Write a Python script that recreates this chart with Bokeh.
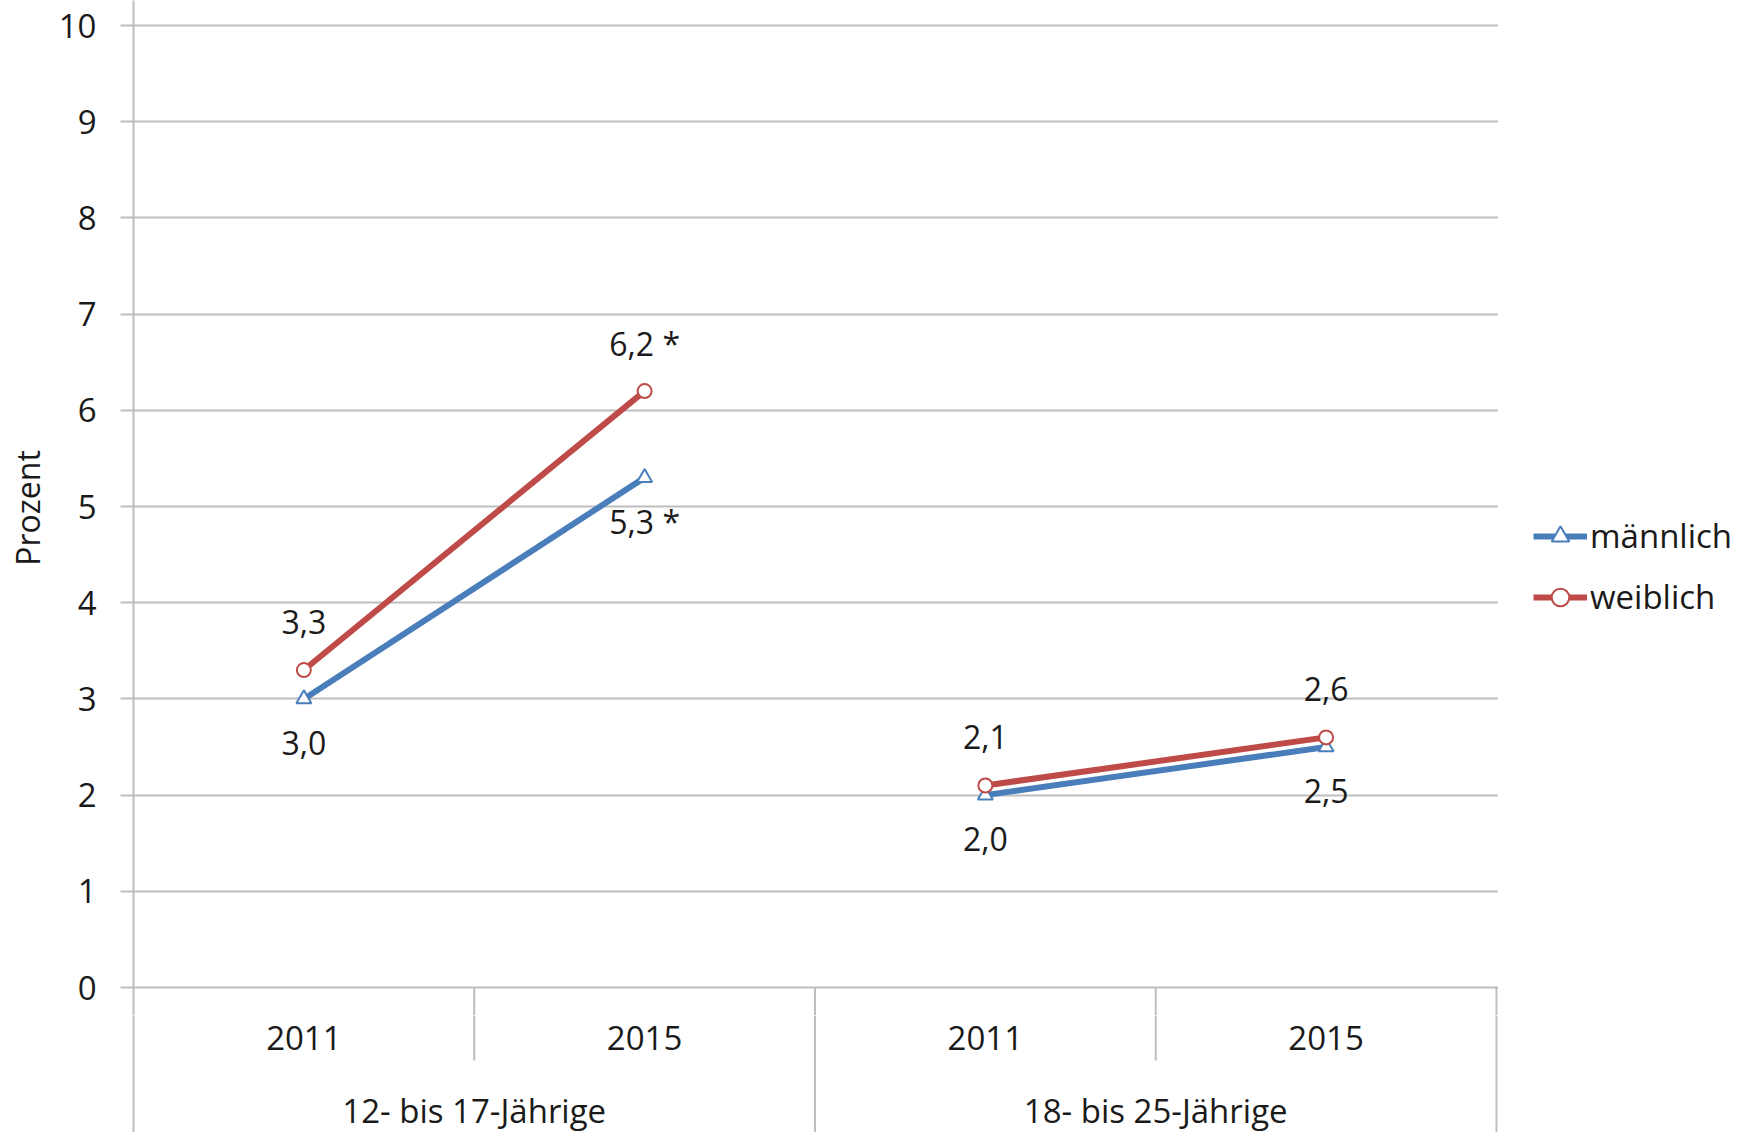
import math
from bokeh.plotting import figure
from bokeh.layouts import column, row
from bokeh.models import Range1d, FixedTicker, Legend, LegendItem
from bokeh.core.properties import value
from bokeh.embed import file_html
from bokeh.resources import INLINE

# ---------------- data ----------------
groups = ["12- bis 17-Jährige", "18- bis 25-Jährige"]
years = ["2011", "2015"]
maennlich = [3.0, 5.3, 2.0, 2.5]
weiblich = [3.3, 6.2, 2.1, 2.6]
signif_m = ["", " *", "", ""]
signif_w = ["", " *", "", ""]
series_names = ["männlich", "weiblich"]
y_ticks = [0, 1, 2, 3, 4, 5, 6, 7, 8, 9, 10]
y_label = "Prozent"

# ---------------- styling ----------------
FONT = "Open Sans"
TXT = "#1A1A1A"
GRID = "#BEBEBE"
BLUE = "#4A7EBB"
RED = "#BE4B48"
W_MAIN, W_LEG = 1498, 254
H_TOP, H_BOT = 1015, 117
LEFT = 133
UNIT = 96.2                       # pixels per percent
Y0, Y1 = -28 / UNIT, 10 + 25 / UNIT

n_cat = len(groups) * len(years)
x_pos = [i + 0.5 for i in range(n_cat)]
cat_labels = [y for g in groups for y in years]
grp_pos = [len(years) * (g + 0.5) for g in range(len(groups))]
inner = [g * len(years) + 1 for g in range(len(groups))]
outer = [(g + 1) * len(years) for g in range(len(groups))]
xr = Range1d(0, n_cat + 0.006)

# ---------------- main plot ----------------
p = figure(width=W_MAIN, height=H_TOP, x_range=xr, y_range=Range1d(Y0, Y1),
           output_backend="svg", toolbar_location=None, x_axis_location=None,
           min_border_left=LEFT, min_border_right=0,
           min_border_top=0, min_border_bottom=0)
p.outline_line_color = None
p.xgrid.visible = False
p.ygrid.ticker = FixedTicker(ticks=y_ticks)
p.ygrid.grid_line_color = GRID
p.ygrid.grid_line_width = 2

ax = p.yaxis[0]
ax.ticker = FixedTicker(ticks=y_ticks)
ax.axis_line_color = GRID
ax.axis_line_width = 2
ax.major_tick_line_color = GRID
ax.major_tick_line_width = 2
ax.major_tick_out = 13
ax.major_tick_in = 0
ax.minor_tick_out = 0
ax.minor_tick_in = 0
ax.major_label_text_font = FONT
ax.major_label_text_font_size = "33px"
ax.major_label_text_color = TXT
ax.major_label_standoff = 24
ax.axis_label = y_label
ax.axis_label_text_font = FONT
ax.axis_label_text_font_size = "32px"
ax.axis_label_text_font_style = "normal"
ax.axis_label_text_color = TXT
ax.axis_label_standoff = 7

# separators just below the zero line
p.segment(x0=inner + outer, y0=[0] * (len(inner) + len(outer)),
          x1=inner + outer, y1=[Y0] * (len(inner) + len(outer)),
          line_color=GRID, line_width=2)

lines = {"m": [], "w": []}
for g in range(len(groups)):
    idx = [g * len(years) + k for k in range(len(years))]
    lines["m"].append(p.line([x_pos[i] for i in idx], [maennlich[i] for i in idx],
                             line_color=BLUE, line_width=6))
    lines["w"].append(p.line([x_pos[i] for i in idx], [weiblich[i] for i in idx],
                             line_color=RED, line_width=6))

p.scatter(x_pos, maennlich, marker="triangle", size=15, line_color=BLUE,
          fill_color="white", line_width=2)
p.scatter(x_pos, weiblich, marker="circle", size=14, line_color=RED,
          fill_color="white", line_width=2)


def fmt(v, s):
    return f"{v:.1f}".replace(".", ",") + s


p.text(x=x_pos, y=[v + 48 / UNIT for v in weiblich],
       text=[fmt(v, s) for v, s in zip(weiblich, signif_w)],
       text_align="center", text_baseline="middle", text_font=value(FONT),
       text_font_size="32px", text_color=TXT)
p.text(x=x_pos, y=[v - 44 / UNIT for v in maennlich],
       text=[fmt(v, s) for v, s in zip(maennlich, signif_m)],
       text_align="center", text_baseline="middle", text_font=value(FONT),
       text_font_size="32px", text_color=TXT)

# ---------------- category axis strip ----------------
b = figure(width=W_MAIN, height=H_BOT, x_range=xr, y_range=Range1d(-H_BOT, 0),
           output_backend="svg", toolbar_location=None, x_axis_location=None,
           min_border_left=LEFT, min_border_right=0,
           min_border_top=0, min_border_bottom=0)
b.outline_line_color = None
b.xgrid.visible = False
b.ygrid.visible = False
bax = b.yaxis[0]
bax.ticker = FixedTicker(ticks=[])
bax.axis_line_color = GRID
bax.axis_line_width = 2
bax.major_tick_out = 0
bax.minor_tick_out = 0
bax.major_label_text_font_size = "0px"

b.segment(x0=inner, y0=[0] * len(inner), x1=inner, y1=[-45] * len(inner),
          line_color=GRID, line_width=2)
b.segment(x0=outer, y0=[0] * len(outer), x1=outer, y1=[-H_BOT] * len(outer),
          line_color=GRID, line_width=2)

b.text(x=x_pos, y=[-22] * n_cat, text=cat_labels, text_align="center",
       text_baseline="middle", text_font=value(FONT), text_font_size="33px",
       text_color=TXT)
b.text(x=grp_pos, y=[-95] * len(groups), text=groups, text_align="center",
       text_baseline="middle", text_font=value(FONT), text_font_size="33px",
       text_color=TXT)

# ---------------- legend panel ----------------
H_ALL = H_TOP + H_BOT
lg = figure(width=W_LEG, height=H_ALL, x_range=Range1d(0, W_LEG),
            y_range=Range1d(0, H_ALL), output_backend="svg",
            toolbar_location=None, x_axis_location=None, y_axis_location=None,
            min_border_left=0, min_border_right=0, min_border_top=0,
            min_border_bottom=0)
lg.outline_line_color = None
lg.xgrid.visible = False
lg.ygrid.visible = False
# proxy renderers for the legend keys (their single point lies off-canvas)
OFF = [-1000]
lm = lg.line(x=OFF, y=OFF, line_color=BLUE, line_width=6)
sm = lg.scatter(x=OFF, y=OFF, marker="triangle", size=15, line_color=BLUE,
                fill_color="white", line_width=2)
lw = lg.line(x=OFF, y=OFF, line_color=RED, line_width=6)
sw = lg.scatter(x=OFF, y=OFF, marker="circle", size=14, line_color=RED,
                fill_color="white", line_width=2)

legend = Legend(items=[
    LegendItem(label=series_names[0], renderers=[lm, sm]),
    LegendItem(label=series_names[1], renderers=[lw, sw]),
], location=(35, 513))
legend.border_line_color = None
legend.background_fill_alpha = 0
legend.padding = 0
legend.margin = 0
legend.spacing = 16
legend.glyph_width = 54
legend.glyph_height = 44
legend.label_height = 44
legend.label_standoff = 3
legend.label_text_font = FONT
legend.label_text_font_size = "33px"
legend.label_text_color = TXT
lg.add_layout(legend)

layout = row(column(p, b, spacing=0), lg, spacing=0)
open("out.html", "w").write(file_html(layout, INLINE))
